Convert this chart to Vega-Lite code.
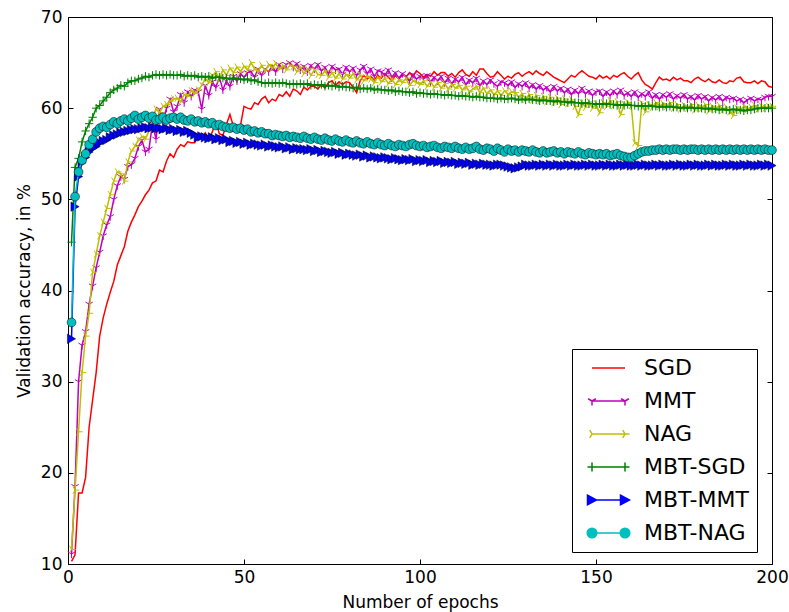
{
"$schema":"https://vega.github.io/schema/vega-lite/v6.json",
"width":704,"height":547,
"autosize":"none",
"padding":{"left":68,"top":17,"right":17,"bottom":48},
"background":"white",
"config":{"view":{"stroke":"black","strokeWidth":1},"font":"DejaVu Sans",
"axis":{"labelFont":"DejaVu Sans","titleFont":"DejaVu Sans","labelColor":"black","titleColor":"black","tickColor":"black","grid":false,"domain":false,"labelFlush":false,"labelOverlap":false},
"legend":{"orient":"none","legendX":504,"legendY":332,"title":null,"labelFont":"DejaVu Sans","labelFontSize":22,"labelColor":"black","symbolSize":400,"symbolStrokeWidth":1.5,"strokeColor":"black","fillColor":"white","padding":8,"rowPadding":11,"labelOffset":42}},
"data":{"values":[
{"e":1,"s":10.3,"m":11.1,"n":11.6,"bs":45.3,"bm":34.7,"bn":36.5},
{"e":2,"s":11.0,"m":18.5,"n":18.1,"bs":53.5,"bm":49.2,"bn":50.3},
{"e":3,"s":17.8,"m":30.0,"n":24.5,"bs":54.5,"bm":52.5,"bn":53.0},
{"e":4,"s":17.8,"m":34.0,"n":31.0,"bs":56.3,"bm":54.0,"bn":54.3},
{"e":5,"s":19.5,"m":35.5,"n":35.0,"bs":57.5,"bm":54.6,"bn":55.0},
{"e":6,"s":25.0,"m":38.5,"n":37.5,"bs":58.3,"bm":55.2,"bn":56.0},
{"e":7,"s":28.0,"m":40.5,"n":42.0,"bs":59.0,"bm":55.6,"bn":56.6},
{"e":8,"s":31.0,"m":42.5,"n":44.0,"bs":60.0,"bm":55.8,"bn":57.4},
{"e":9,"s":35.0,"m":44.2,"n":46.0,"bs":60.3,"bm":56.2,"bn":57.8},
{"e":10,"s":37.0,"m":46.0,"n":47.5,"bs":60.8,"bm":56.4,"bn":58.0},
{"e":11,"s":38.5,"m":47.2,"n":49.0,"bs":61.2,"bm":56.5,"bn":57.9},
{"e":12,"s":39.8,"m":48.1,"n":50.5,"bs":61.7,"bm":56.8,"bn":58.2},
{"e":13,"s":41.0,"m":50.0,"n":52.0,"bs":62.0,"bm":57.0,"bn":58.5},
{"e":14,"s":42.8,"m":51.5,"n":53.0,"bs":62.2,"bm":57.1,"bn":58.3},
{"e":15,"s":43.8,"m":52.5,"n":52.8,"bs":62.5,"bm":57.3,"bn":58.6},
{"e":16,"s":44.8,"m":52.2,"n":52.0,"bs":62.4,"bm":57.4,"bn":58.8},
{"e":17,"s":46.5,"m":53.6,"n":54.1,"bs":62.8,"bm":57.5,"bn":58.6},
{"e":18,"s":47.5,"m":53.8,"n":55.3,"bs":63.0,"bm":57.6,"bn":58.9},
{"e":19,"s":48.3,"m":54.5,"n":55.8,"bs":63.0,"bm":57.7,"bn":59.2},
{"e":20,"s":49.2,"m":55.8,"n":56.5,"bs":63.2,"bm":57.7,"bn":58.8},
{"e":21,"s":49.8,"m":56.5,"n":56.9,"bs":63.3,"bm":57.8,"bn":59.0},
{"e":22,"s":50.5,"m":55.2,"n":56.6,"bs":63.5,"bm":57.9,"bn":59.2},
{"e":23,"s":51.0,"m":55.5,"n":57.5,"bs":63.4,"bm":57.8,"bn":58.9},
{"e":24,"s":51.8,"m":58.3,"n":58.5,"bs":63.6,"bm":57.9,"bn":59.1},
{"e":25,"s":52.0,"m":56.6,"n":59.9,"bs":63.7,"bm":57.8,"bn":58.7},
{"e":26,"s":53.2,"m":59.9,"n":59.5,"bs":63.6,"bm":57.8,"bn":58.8},
{"e":27,"s":53.0,"m":58.7,"n":60.2,"bs":63.7,"bm":57.7,"bn":59.0},
{"e":28,"s":54.2,"m":60.0,"n":60.4,"bs":63.6,"bm":57.8,"bn":58.7},
{"e":29,"s":55.0,"m":61.0,"n":60.8,"bs":63.7,"bm":57.6,"bn":58.9},
{"e":30,"s":54.6,"m":59.6,"n":61.0,"bs":63.6,"bm":57.7,"bn":59.0},
{"e":31,"s":55.5,"m":60.2,"n":61.1,"bs":63.6,"bm":57.5,"bn":58.8},
{"e":32,"s":56.0,"m":61.5,"n":60.7,"bs":63.7,"bm":57.6,"bn":59.0},
{"e":33,"s":55.8,"m":60.6,"n":61.5,"bs":63.5,"bm":57.4,"bn":58.7},
{"e":34,"s":56.3,"m":61.8,"n":61.3,"bs":63.6,"bm":57.5,"bn":58.6},
{"e":35,"s":56.2,"m":61.3,"n":61.9,"bs":63.5,"bm":57.3,"bn":58.8},
{"e":36,"s":56.2,"m":62.0,"n":61.6,"bs":63.6,"bm":57.1,"bn":58.5},
{"e":37,"s":57.0,"m":61.8,"n":62.0,"bs":63.4,"bm":56.8,"bn":58.6},
{"e":38,"s":56.8,"m":59.9,"n":62.5,"bs":63.5,"bm":56.9,"bn":58.4},
{"e":39,"s":57.3,"m":62.5,"n":63.2,"bs":63.4,"bm":56.8,"bn":58.5},
{"e":40,"s":56.6,"m":61.4,"n":62.8,"bs":63.5,"bm":56.7,"bn":58.3},
{"e":41,"s":57.4,"m":62.9,"n":63.5,"bs":63.3,"bm":56.8,"bn":58.4},
{"e":42,"s":58.5,"m":62.3,"n":64.0,"bs":63.4,"bm":56.6,"bn":58.1},
{"e":43,"s":57.2,"m":63.4,"n":63.2,"bs":63.4,"bm":56.7,"bn":58.2},
{"e":44,"s":57.0,"m":62.0,"n":64.2,"bs":63.3,"bm":56.5,"bn":58.0},
{"e":45,"s":58.2,"m":63.0,"n":63.6,"bs":63.3,"bm":56.6,"bn":57.9},
{"e":46,"s":59.3,"m":62.4,"n":64.4,"bs":63.2,"bm":56.3,"bn":57.8},
{"e":47,"s":58.0,"m":63.5,"n":63.9,"bs":63.3,"bm":56.4,"bn":57.9},
{"e":48,"s":57.7,"m":63.0,"n":64.5,"bs":63.2,"bm":56.2,"bn":57.7},
{"e":49,"s":58.1,"m":63.8,"n":64.0,"bs":63.2,"bm":56.3,"bn":57.8},
{"e":50,"s":60.2,"m":63.4,"n":64.6,"bs":63.1,"bm":56.1,"bn":57.6},
{"e":51,"s":60.0,"m":63.9,"n":64.2,"bs":63.2,"bm":56.2,"bn":57.7},
{"e":52,"s":59.9,"m":64.0,"n":65.0,"bs":63.0,"bm":56.0,"bn":57.4},
{"e":53,"s":60.6,"m":63.4,"n":64.3,"bs":63.1,"bm":56.1,"bn":57.5},
{"e":54,"s":60.4,"m":64.3,"n":64.0,"bs":62.9,"bm":56.0,"bn":57.3},
{"e":55,"s":61.0,"m":63.6,"n":64.7,"bs":62.8,"bm":55.9,"bn":57.4},
{"e":56,"s":61.3,"m":64.3,"n":64.1,"bs":62.7,"bm":56.0,"bn":57.2},
{"e":57,"s":60.6,"m":64.0,"n":64.8,"bs":62.8,"bm":55.8,"bn":57.2},
{"e":58,"s":61.0,"m":64.6,"n":64.4,"bs":62.7,"bm":55.9,"bn":57.0},
{"e":59,"s":60.8,"m":64.0,"n":64.9,"bs":62.8,"bm":55.8,"bn":57.1},
{"e":60,"s":61.5,"m":64.8,"n":64.3,"bs":62.7,"bm":55.7,"bn":57.0},
{"e":61,"s":61.3,"m":64.3,"n":64.7,"bs":62.8,"bm":55.8,"bn":56.9},
{"e":62,"s":61.8,"m":64.8,"n":64.2,"bs":62.7,"bm":55.6,"bn":57.0},
{"e":63,"s":61.3,"m":65.0,"n":64.7,"bs":62.6,"bm":55.7,"bn":56.8},
{"e":64,"s":62.1,"m":64.5,"n":64.6,"bs":62.7,"bm":55.5,"bn":56.9},
{"e":65,"s":61.9,"m":64.9,"n":64.0,"bs":62.6,"bm":55.6,"bn":56.8},
{"e":66,"s":61.5,"m":64.2,"n":64.5,"bs":62.7,"bm":55.5,"bn":56.7},
{"e":67,"s":62.3,"m":64.6,"n":63.8,"bs":62.6,"bm":55.5,"bn":56.9},
{"e":68,"s":62.0,"m":64.0,"n":64.3,"bs":62.7,"bm":55.4,"bn":56.7},
{"e":69,"s":62.4,"m":64.7,"n":63.6,"bs":62.5,"bm":55.5,"bn":56.6},
{"e":70,"s":62.4,"m":64.3,"n":64.2,"bs":62.6,"bm":55.3,"bn":56.8},
{"e":71,"s":62.1,"m":64.8,"n":63.7,"bs":62.5,"bm":55.4,"bn":56.6},
{"e":72,"s":62.6,"m":64.1,"n":63.6,"bs":62.6,"bm":55.2,"bn":56.5},
{"e":73,"s":62.2,"m":64.5,"n":64.1,"bs":62.4,"bm":55.3,"bn":56.7},
{"e":74,"s":62.8,"m":63.8,"n":63.4,"bs":62.5,"bm":55.2,"bn":56.5},
{"e":75,"s":63.0,"m":64.6,"n":63.9,"bs":62.4,"bm":55.1,"bn":56.4},
{"e":76,"s":62.5,"m":64.2,"n":63.3,"bs":62.5,"bm":55.2,"bn":56.6},
{"e":77,"s":62.9,"m":64.3,"n":63.8,"bs":62.3,"bm":55.0,"bn":56.4},
{"e":78,"s":62.6,"m":63.7,"n":63.2,"bs":62.4,"bm":55.1,"bn":56.3},
{"e":79,"s":62.9,"m":64.5,"n":63.7,"bs":62.3,"bm":54.9,"bn":56.5},
{"e":80,"s":62.8,"m":64.0,"n":63.3,"bs":62.3,"bm":55.0,"bn":56.3},
{"e":81,"s":62.3,"m":64.4,"n":63.8,"bs":62.2,"bm":54.9,"bn":56.2},
{"e":82,"s":61.7,"m":63.6,"n":63.1,"bs":62.3,"bm":54.8,"bn":56.4},
{"e":83,"s":63.0,"m":64.2,"n":63.6,"bs":62.1,"bm":54.9,"bn":56.2},
{"e":84,"s":63.6,"m":64.6,"n":63.0,"bs":62.2,"bm":54.7,"bn":56.1},
{"e":85,"s":63.2,"m":63.8,"n":63.5,"bs":62.1,"bm":54.8,"bn":56.3},
{"e":86,"s":63.5,"m":64.3,"n":63.2,"bs":62.2,"bm":54.6,"bn":56.1},
{"e":87,"s":63.1,"m":63.5,"n":62.8,"bs":62.0,"bm":54.7,"bn":56.0},
{"e":88,"s":63.6,"m":64.1,"n":63.4,"bs":62.1,"bm":54.6,"bn":56.2},
{"e":89,"s":63.3,"m":64.0,"n":62.9,"bs":62.0,"bm":54.5,"bn":56.0},
{"e":90,"s":63.8,"m":63.6,"n":63.3,"bs":62.0,"bm":54.6,"bn":55.9},
{"e":91,"s":63.4,"m":64.2,"n":62.7,"bs":61.9,"bm":54.5,"bn":56.1},
{"e":92,"s":63.0,"m":63.4,"n":63.2,"bs":62.0,"bm":54.4,"bn":55.9},
{"e":93,"s":63.6,"m":63.9,"n":62.6,"bs":61.8,"bm":54.5,"bn":55.8},
{"e":94,"s":63.2,"m":63.3,"n":63.1,"bs":61.9,"bm":54.4,"bn":56.0},
{"e":95,"s":63.7,"m":63.8,"n":62.8,"bs":61.8,"bm":54.3,"bn":55.9},
{"e":96,"s":63.4,"m":63.5,"n":63.3,"bs":61.8,"bm":54.4,"bn":55.8},
{"e":97,"s":63.9,"m":63.0,"n":62.5,"bs":61.7,"bm":54.3,"bn":56.0},
{"e":98,"s":63.5,"m":63.7,"n":63.0,"bs":61.8,"bm":54.4,"bn":56.1},
{"e":99,"s":64.1,"m":63.2,"n":62.8,"bs":61.6,"bm":54.2,"bn":55.9},
{"e":100,"s":63.8,"m":63.5,"n":62.6,"bs":61.7,"bm":54.3,"bn":55.8},
{"e":101,"s":63.4,"m":63.2,"n":63.0,"bs":61.6,"bm":54.2,"bn":55.9},
{"e":102,"s":63.7,"m":63.6,"n":62.4,"bs":61.6,"bm":54.3,"bn":55.7},
{"e":103,"s":63.5,"m":62.9,"n":62.9,"bs":61.5,"bm":54.1,"bn":55.8},
{"e":104,"s":64.0,"m":63.4,"n":62.3,"bs":61.6,"bm":54.2,"bn":55.9},
{"e":105,"s":63.6,"m":63.0,"n":62.8,"bs":61.5,"bm":54.1,"bn":55.7},
{"e":106,"s":63.9,"m":63.5,"n":62.2,"bs":61.5,"bm":54.2,"bn":55.6},
{"e":107,"s":63.9,"m":62.8,"n":62.7,"bs":61.4,"bm":54.0,"bn":55.8},
{"e":108,"s":63.5,"m":63.3,"n":62.1,"bs":61.5,"bm":54.1,"bn":55.7},
{"e":109,"s":63.8,"m":62.7,"n":62.6,"bs":61.4,"bm":54.0,"bn":55.6},
{"e":110,"s":63.4,"m":63.2,"n":62.2,"bs":61.4,"bm":54.1,"bn":55.8},
{"e":111,"s":63.9,"m":62.9,"n":62.5,"bs":61.3,"bm":53.9,"bn":55.6},
{"e":112,"s":64.2,"m":63.4,"n":62.0,"bs":61.4,"bm":54.0,"bn":55.5},
{"e":113,"s":63.7,"m":62.6,"n":62.4,"bs":61.3,"bm":53.9,"bn":55.7},
{"e":114,"s":63.5,"m":63.1,"n":61.8,"bs":61.3,"bm":54.0,"bn":55.5},
{"e":115,"s":64.0,"m":62.8,"n":62.1,"bs":61.2,"bm":53.8,"bn":55.6},
{"e":116,"s":63.6,"m":63.3,"n":62.4,"bs":61.3,"bm":53.9,"bn":55.8},
{"e":117,"s":64.3,"m":62.5,"n":61.7,"bs":61.2,"bm":53.8,"bn":55.5},
{"e":118,"s":64.3,"m":63.0,"n":62.2,"bs":61.2,"bm":53.9,"bn":55.4},
{"e":119,"s":63.8,"m":62.6,"n":61.6,"bs":61.1,"bm":53.8,"bn":55.6},
{"e":120,"s":63.4,"m":63.1,"n":62.0,"bs":61.1,"bm":53.8,"bn":55.5},
{"e":121,"s":63.5,"m":62.7,"n":61.5,"bs":61.1,"bm":53.7,"bn":55.3},
{"e":122,"s":64.0,"m":62.4,"n":61.9,"bs":61.0,"bm":53.8,"bn":55.6},
{"e":123,"s":63.6,"m":62.9,"n":61.4,"bs":61.1,"bm":53.8,"bn":55.4},
{"e":124,"s":63.2,"m":62.8,"n":61.9,"bs":61.0,"bm":53.7,"bn":55.2},
{"e":125,"s":63.5,"m":62.5,"n":61.5,"bs":61.0,"bm":53.6,"bn":55.5},
{"e":126,"s":63.3,"m":62.9,"n":61.8,"bs":61.1,"bm":53.5,"bn":55.3},
{"e":127,"s":63.7,"m":62.3,"n":61.7,"bs":61.0,"bm":53.4,"bn":55.4},
{"e":128,"s":63.9,"m":62.7,"n":61.2,"bs":60.9,"bm":53.5,"bn":55.2},
{"e":129,"s":63.5,"m":62.4,"n":61.6,"bs":61.0,"bm":53.6,"bn":55.4},
{"e":130,"s":63.8,"m":62.8,"n":61.0,"bs":60.9,"bm":53.8,"bn":55.3},
{"e":131,"s":64.0,"m":62.2,"n":61.5,"bs":61.0,"bm":53.7,"bn":55.2},
{"e":132,"s":63.7,"m":62.6,"n":60.9,"bs":60.9,"bm":53.7,"bn":55.4},
{"e":133,"s":64.1,"m":62.1,"n":61.4,"bs":60.9,"bm":53.8,"bn":55.2},
{"e":134,"s":63.8,"m":62.5,"n":60.8,"bs":60.8,"bm":53.7,"bn":55.1},
{"e":135,"s":63.6,"m":62.0,"n":61.3,"bs":60.9,"bm":53.8,"bn":55.3},
{"e":136,"s":64.0,"m":62.3,"n":60.7,"bs":60.8,"bm":53.7,"bn":55.1},
{"e":137,"s":63.7,"m":61.8,"n":61.2,"bs":60.8,"bm":53.8,"bn":55.2},
{"e":138,"s":63.4,"m":62.4,"n":60.6,"bs":60.7,"bm":53.7,"bn":55.3},
{"e":139,"s":63.2,"m":61.9,"n":61.1,"bs":60.8,"bm":53.8,"bn":55.1},
{"e":140,"s":63.0,"m":62.2,"n":60.4,"bs":60.7,"bm":53.7,"bn":55.2},
{"e":141,"s":62.8,"m":61.7,"n":61.0,"bs":60.7,"bm":53.7,"bn":55.0},
{"e":142,"s":63.2,"m":62.1,"n":60.5,"bs":60.6,"bm":53.8,"bn":55.2},
{"e":143,"s":63.6,"m":61.5,"n":60.9,"bs":60.7,"bm":53.7,"bn":55.1},
{"e":144,"s":63.4,"m":62.0,"n":60.2,"bs":60.6,"bm":53.8,"bn":55.0},
{"e":145,"s":63.8,"m":61.6,"n":59.3,"bs":60.6,"bm":53.7,"bn":55.2},
{"e":146,"s":64.1,"m":62.2,"n":60.6,"bs":60.5,"bm":53.7,"bn":55.0},
{"e":147,"s":63.8,"m":61.6,"n":60.1,"bs":60.6,"bm":53.8,"bn":54.9},
{"e":148,"s":63.5,"m":61.9,"n":60.7,"bs":60.5,"bm":53.7,"bn":55.1},
{"e":149,"s":63.4,"m":61.4,"n":60.0,"bs":60.5,"bm":53.8,"bn":55.0},
{"e":150,"s":63.2,"m":61.8,"n":60.5,"bs":60.4,"bm":53.7,"bn":54.9},
{"e":151,"s":63.6,"m":61.9,"n":59.5,"bs":60.5,"bm":53.7,"bn":55.0},
{"e":152,"s":63.3,"m":61.3,"n":60.6,"bs":60.4,"bm":53.8,"bn":54.9},
{"e":153,"s":63.5,"m":61.8,"n":60.2,"bs":60.5,"bm":53.7,"bn":55.0},
{"e":154,"s":63.2,"m":61.4,"n":60.8,"bs":60.4,"bm":53.8,"bn":54.8},
{"e":155,"s":63.6,"m":61.9,"n":60.3,"bs":60.4,"bm":53.7,"bn":54.9},
{"e":156,"s":63.4,"m":61.5,"n":60.7,"bs":60.3,"bm":53.7,"bn":55.0},
{"e":157,"s":63.7,"m":62.0,"n":59.3,"bs":60.4,"bm":53.8,"bn":54.8},
{"e":158,"s":63.9,"m":61.4,"n":60.4,"bs":60.3,"bm":53.7,"bn":54.7},
{"e":159,"s":63.5,"m":61.7,"n":60.6,"bs":60.4,"bm":53.8,"bn":54.6},
{"e":160,"s":63.2,"m":61.3,"n":60.3,"bs":60.3,"bm":53.7,"bn":54.6},
{"e":161,"s":63.6,"m":61.8,"n":56.2,"bs":60.3,"bm":53.7,"bn":54.8},
{"e":162,"s":63.9,"m":61.2,"n":55.9,"bs":60.2,"bm":53.8,"bn":55.0},
{"e":163,"s":63.1,"m":61.6,"n":60.5,"bs":60.3,"bm":53.7,"bn":55.2},
{"e":164,"s":62.6,"m":61.3,"n":59.6,"bs":60.2,"bm":53.8,"bn":55.3},
{"e":165,"s":62.4,"m":61.8,"n":60.4,"bs":60.3,"bm":53.7,"bn":55.3},
{"e":166,"s":62.1,"m":61.1,"n":60.1,"bs":60.2,"bm":53.7,"bn":55.4},
{"e":167,"s":62.8,"m":61.5,"n":60.6,"bs":60.2,"bm":53.8,"bn":55.4},
{"e":168,"s":63.4,"m":61.0,"n":60.2,"bs":60.1,"bm":53.7,"bn":55.5},
{"e":169,"s":63.1,"m":61.5,"n":60.5,"bs":60.2,"bm":53.8,"bn":55.4},
{"e":170,"s":63.2,"m":61.2,"n":60.2,"bs":60.1,"bm":53.7,"bn":55.5},
{"e":171,"s":63.0,"m":61.6,"n":60.6,"bs":60.2,"bm":53.7,"bn":55.4},
{"e":172,"s":63.4,"m":61.0,"n":60.0,"bs":60.1,"bm":53.8,"bn":55.5},
{"e":173,"s":63.1,"m":61.4,"n":60.4,"bs":60.1,"bm":53.7,"bn":55.5},
{"e":174,"s":63.3,"m":61.1,"n":59.9,"bs":60.0,"bm":53.8,"bn":55.4},
{"e":175,"s":63.0,"m":61.5,"n":60.3,"bs":60.1,"bm":53.7,"bn":55.5},
{"e":176,"s":63.0,"m":61.0,"n":60.0,"bs":60.0,"bm":53.7,"bn":55.4},
{"e":177,"s":62.8,"m":61.3,"n":60.4,"bs":60.1,"bm":53.8,"bn":55.5},
{"e":178,"s":63.2,"m":60.9,"n":59.8,"bs":60.0,"bm":53.7,"bn":55.5},
{"e":179,"s":63.4,"m":61.4,"n":60.3,"bs":60.0,"bm":53.8,"bn":55.4},
{"e":180,"s":63.1,"m":61.0,"n":60.0,"bs":60.0,"bm":53.7,"bn":55.5},
{"e":181,"s":62.9,"m":61.3,"n":60.4,"bs":59.9,"bm":53.7,"bn":55.4},
{"e":182,"s":63.2,"m":60.8,"n":59.7,"bs":60.0,"bm":53.8,"bn":55.5},
{"e":183,"s":62.9,"m":61.2,"n":60.2,"bs":59.9,"bm":53.7,"bn":55.4},
{"e":184,"s":62.8,"m":60.9,"n":59.9,"bs":59.9,"bm":53.8,"bn":55.5},
{"e":185,"s":63.1,"m":61.3,"n":60.3,"bs":59.8,"bm":53.7,"bn":55.4},
{"e":186,"s":62.8,"m":60.8,"n":59.8,"bs":59.9,"bm":53.7,"bn":55.5},
{"e":187,"s":62.7,"m":61.2,"n":60.1,"bs":59.8,"bm":53.8,"bn":55.4},
{"e":188,"s":63.0,"m":61.0,"n":59.6,"bs":59.8,"bm":53.7,"bn":55.5},
{"e":189,"s":62.9,"m":61.1,"n":59.2,"bs":59.9,"bm":53.8,"bn":55.4},
{"e":190,"s":63.3,"m":60.8,"n":60.0,"bs":59.8,"bm":53.7,"bn":55.5},
{"e":191,"s":63.4,"m":61.0,"n":59.8,"bs":59.8,"bm":53.7,"bn":55.4},
{"e":192,"s":62.9,"m":60.6,"n":60.2,"bs":59.7,"bm":53.8,"bn":55.5},
{"e":193,"s":62.8,"m":60.9,"n":59.9,"bs":59.8,"bm":53.7,"bn":55.4},
{"e":194,"s":62.8,"m":61.1,"n":60.1,"bs":59.8,"bm":53.8,"bn":55.5},
{"e":195,"s":63.0,"m":60.8,"n":60.3,"bs":59.9,"bm":53.7,"bn":55.4},
{"e":196,"s":62.7,"m":61.0,"n":59.9,"bs":60.0,"bm":53.7,"bn":55.5},
{"e":197,"s":63.0,"m":60.9,"n":60.2,"bs":60.0,"bm":53.8,"bn":55.4},
{"e":198,"s":62.9,"m":61.2,"n":60.0,"bs":60.0,"bm":53.7,"bn":55.5},
{"e":199,"s":62.4,"m":61.3,"n":60.2,"bs":60.0,"bm":53.8,"bn":55.4},
{"e":200,"s":62.3,"m":61.3,"n":60.2,"bs":60.0,"bm":53.7,"bn":55.4}
]},
"transform":[{"fold":["s","m","n","bs","bm","bn"],"as":["k","v"]}],
"layer":[
{"encoding":{
"x":{"field":"e","type":"quantitative","scale":{"domain":[0,200],"nice":false,"zero":false},"axis":{"values":[0,50,100,150,200],"tickSize":-5,"tickWidth":1,"labelFontSize":17,"labelPadding":10,"title":"Number of epochs","titleFontSize":17,"titleFontWeight":"normal","titlePadding":9}},
"y":{"field":"v","type":"quantitative","scale":{"domain":[10,70],"nice":false,"zero":false},"axis":{"values":[10,20,30,40,50,60,70],"tickSize":-5,"tickWidth":1,"labelFontSize":17,"labelPadding":11,"title":"Validation accuracy, in %","titleFontSize":17,"titleFontWeight":"normal","titlePadding":7}}},
"layer":[
{"transform":[{"filter":"datum.k==='s'"}],"mark":{"type":"line","color":"#ff0000","strokeWidth":1.5}},
{"transform":[{"filter":"datum.k==='m'"}],"mark":{"type":"line","color":"#bf00bf","strokeWidth":1.5}},
{"transform":[{"filter":"datum.k==='m'"}],"mark":{"type":"point","shape":"M0,0V1M0,0L-0.866,-0.5M0,0L0.866,-0.5","filled":false,"stroke":"#bf00bf","strokeWidth":1,"size":70,"opacity":1}},
{"transform":[{"filter":"datum.k==='n'"}],"mark":{"type":"line","color":"#bfbf00","strokeWidth":1.5}},
{"transform":[{"filter":"datum.k==='n'"}],"mark":{"type":"point","shape":"M0,0H1M0,0L-0.5,-0.866M0,0L-0.5,0.866","filled":false,"stroke":"#bfbf00","strokeWidth":1,"size":70,"opacity":1}},
{"transform":[{"filter":"datum.k==='bs'"}],"mark":{"type":"line","color":"#008000","strokeWidth":1.5}},
{"transform":[{"filter":"datum.k==='bs'"}],"mark":{"type":"point","shape":"M-1,0H1M0,-1V1","filled":false,"stroke":"#008000","strokeWidth":1,"size":70,"opacity":1}},
{"transform":[{"filter":"datum.k==='bm'"}],"mark":{"type":"line","color":"#0000ff","strokeWidth":1.5}},
{"transform":[{"filter":"datum.k==='bm'"}],"mark":{"type":"point","shape":"triangle-right","filled":true,"fill":"#0000ff","stroke":"black","strokeWidth":0.5,"size":90,"opacity":1}},
{"transform":[{"filter":"datum.k==='bn'"}],"mark":{"type":"line","color":"#00bfbf","strokeWidth":1.5}},
{"transform":[{"filter":"datum.k==='bn'"}],"mark":{"type":"point","shape":"circle","filled":true,"fill":"#00bfbf","stroke":"black","strokeWidth":0.5,"size":78,"opacity":1}}
]},
{"transform":[{"filter":"false"}],
"mark":{"type":"point","filled":true,"opacity":1,"strokeWidth":1.5,"size":400},
"encoding":{
"x":{"field":"e","type":"quantitative","axis":{"orient":"top","values":[0,50,100,150,200],"tickSize":-5,"tickWidth":1,"labels":false,"title":null}},
"y":{"field":"v","type":"quantitative","axis":{"orient":"right","values":[10,20,30,40,50,60,70],"tickSize":-5,"tickWidth":1,"labels":false,"title":null}},
"stroke":{"field":"k","type":"nominal","scale":{"domain":["s","m","n","bs","bm","bn"],"range":["#ff0000","#bf00bf","#bfbf00","#008000","#0000ff","#00bfbf"]},"legend":{"labelExpr":"datum.label=='s'?'SGD':datum.label=='m'?'MMT':datum.label=='n'?'NAG':datum.label=='bs'?'MBT-SGD':datum.label=='bm'?'MBT-MMT':'MBT-NAG'"}},
"fill":{"field":"k","type":"nominal","scale":{"domain":["s","m","n","bs","bm","bn"],"range":["transparent","transparent","transparent","transparent","#0000ff","#00bfbf"]},"legend":{"labelExpr":"datum.label=='s'?'SGD':datum.label=='m'?'MMT':datum.label=='n'?'NAG':datum.label=='bs'?'MBT-SGD':datum.label=='bm'?'MBT-MMT':'MBT-NAG'"}},
"shape":{"field":"k","type":"nominal","scale":{"domain":["s","m","n","bs","bm","bn"],"range":[
"M0.1,0H3.4",
"M0.1,0H3.4M0.1,0V0.45M0.1,0L-0.29,-0.225M0.1,0L0.49,-0.225M3.4,0V0.45M3.4,0L3.01,-0.225M3.4,0L3.79,-0.225",
"M0.1,0H3.85M0.1,0L-0.125,-0.39M0.1,0L-0.125,0.39M3.4,0L3.175,-0.39M3.4,0L3.175,0.39",
"M-0.35,0H3.85M0.1,-0.45V0.45M3.4,-0.45V0.45",
"M0.1,0H3.4M-0.35,-0.48L0.55,0L-0.35,0.48ZM2.95,-0.48L3.85,0L2.95,0.48Z",
"M0.1,0H3.4M-0.38,0A0.48,0.48 0 1,0 0.58,0A0.48,0.48 0 1,0 -0.38,0ZM2.92,0A0.48,0.48 0 1,0 3.88,0A0.48,0.48 0 1,0 2.92,0Z"]},"legend":{"labelExpr":"datum.label=='s'?'SGD':datum.label=='m'?'MMT':datum.label=='n'?'NAG':datum.label=='bs'?'MBT-SGD':datum.label=='bm'?'MBT-MMT':'MBT-NAG'"}}
}}
],
"resolve":{"axis":{"x":"independent","y":"independent"}}
}
